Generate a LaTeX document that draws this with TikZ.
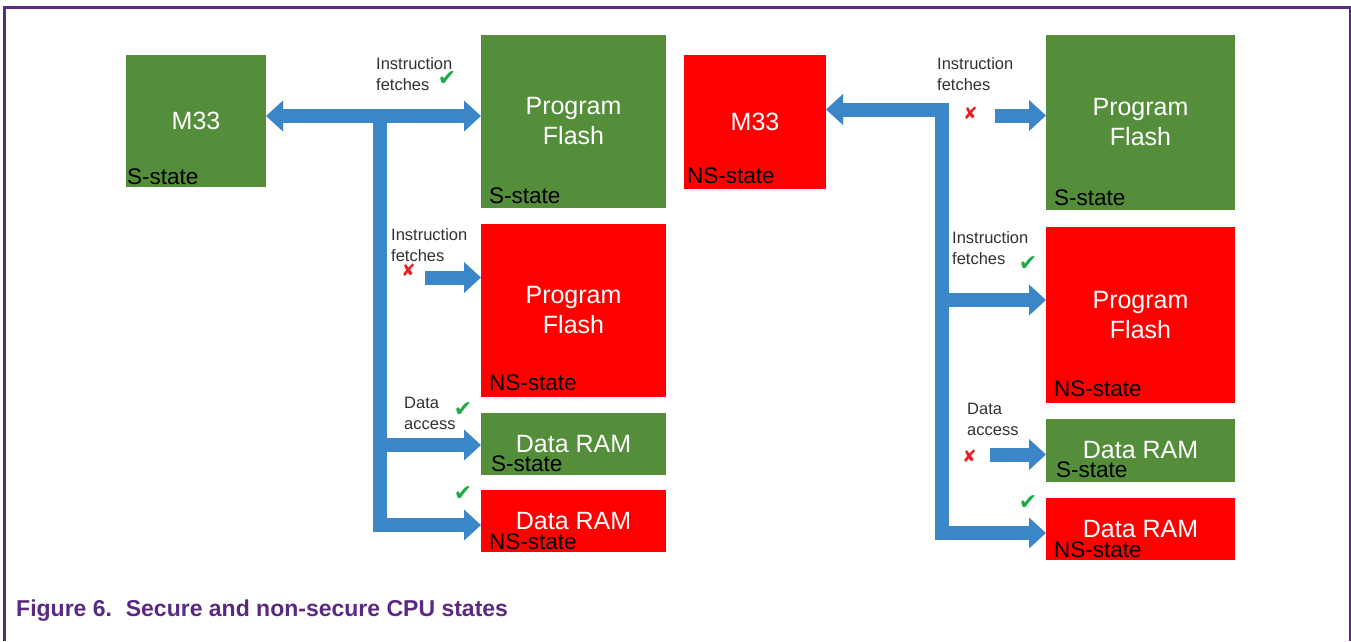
\documentclass[tikz,border=0pt]{standalone}
\usepackage{fontspec}
\setmainfont{Liberation Sans}
\newfontfamily\symf{DejaVu Sans}
\usetikzlibrary{arrows.meta}
\definecolor{grn}{RGB}{84,142,58}
\definecolor{rd}{RGB}{255,0,0}
\definecolor{bl}{RGB}{58,134,200}
\definecolor{purp}{RGB}{90,42,130}
\definecolor{lbl}{RGB}{50,50,50}
\definecolor{ck}{RGB}{30,170,70}
\definecolor{xr}{RGB}{235,30,30}
\begin{document}
\begin{tikzpicture}[x=1pt,y=-1pt,
  >={Triangle[width=30pt,length=17pt]},
  blk/.style={anchor=north west, inner sep=0pt, outer sep=0pt, text=white, align=center,
    font=\fontsize{25}{30}\selectfont},
  gblk/.style={blk, fill=grn},
  rblk/.style={blk, fill=rd},
  st/.style={anchor=base west, inner sep=0pt, text=black, font=\fontsize{22.5}{27}\selectfont},
  sm/.style={anchor=north west, inner sep=0pt, text=lbl, align=left,
    font=\fontsize{16.5}{21}\selectfont},
  ok/.style={inner sep=0pt, text=ck, font=\symf\fontsize{22}{22}\selectfont},
  no/.style={inner sep=0pt, text=xr, font=\symf\fontsize{17}{17}\selectfont},
  bus/.style={draw=bl, line width=14pt, line join=miter},
  frame/.style={draw=purp}
]
\useasboundingbox (0,0) rectangle (1351,641);
\fill[white] (0,0) rectangle (1351,641);

% frame
\draw[frame, line width=3pt] (4.8,641) -- (4.8,7.5) -- (1351,7.5);
\draw[frame, line width=1.5pt] (1349.8,7.5) -- (1349.8,641);

% ---------- left diagram ----------
\node[gblk, minimum width=140pt, minimum height=132pt] (m33l) at (126,55) {M33};
\node[gblk, minimum width=185pt, minimum height=173pt] (pfsl) at (481,35) {Program\\Flash};
\node[rblk, minimum width=185pt, minimum height=173pt] (pfnsl) at (481,224) {Program\\Flash};
\node[gblk, minimum width=185pt, minimum height=62pt] (drsl) at (481,413) {Data RAM};
\node[rblk, minimum width=185pt, minimum height=62pt] (drnsl) at (481,490) {Data RAM};

\node[st] (s1) at (127,184) {S-state};
\node[st] (s2) at (489,203) {S-state};
\node[st] (s3) at (489,390) {NS-state};
\node[st] (s4) at (491,471) {S-state};
\node[st] (s5) at (489,549) {NS-state};

\coordinate (jl) at (379.5,116);
\coordinate (jlm) at (379.5,445);
\coordinate (jlb) at (379.5,525);
\coordinate (bl1) at (425,277.5);

\draw[bus,<->] (m33l.east |- jl) -- (pfsl.west |- jl);
\draw[bus,->] (jl) -- (jlb) -- (drnsl.west |- jlb);
\draw[bus,->] (jlm) -- (drsl.west |- jlm);
\draw[bus,->] (bl1) -- (pfnsl.west |- bl1);

\node[sm] (t1) at (376,57) {Instruction\\fetches};
\node[ok] (c1) at (447,79) {✔};
\node[sm] (t2) at (391,228) {Instruction\\fetches};
\node[no] (x1) at (408.5,270.5) {✘};
\node[sm] (t3) at (404,397) {Data\\access};
\node[ok] (c2) at (463,410) {✔};
\node[ok] (c3) at (463,494) {✔};

% ---------- right diagram ----------
\node[rblk, minimum width=142pt, minimum height=134pt] (m33r) at (684,55) {M33};
\node[gblk, minimum width=189pt, minimum height=175pt] (pfsr) at (1046,35) {Program\\Flash};
\node[rblk, minimum width=189pt, minimum height=176pt] (pfnsr) at (1046,227) {Program\\Flash};
\node[gblk, minimum width=189pt, minimum height=63pt] (drsr) at (1046,419) {Data RAM};
\node[rblk, minimum width=189pt, minimum height=62pt] (drnsr) at (1046,498) {Data RAM};

\node[st] (s6) at (687,183) {NS-state};
\node[st] (s7) at (1054,205) {S-state};
\node[st] (s8) at (1054,396) {NS-state};
\node[st] (s9) at (1056,477) {S-state};
\node[st] (s10) at (1054,557) {NS-state};

\coordinate (jr) at (941.5,109.5);
\coordinate (jrm) at (941.5,300);
\coordinate (jrb) at (941.5,533);
\coordinate (br1) at (995,115.5);
\coordinate (br2) at (990,454.5);

\draw[bus,<->] (m33r.east |- jr) -- (jr) -- (jrb) -- (drnsr.west |- jrb);
\draw[bus,->] (jrm) -- (pfnsr.west |- jrm);
\draw[bus,->] (br1) -- (pfsr.west |- br1);
\draw[bus,->] (br2) -- (drsr.west |- br2);

\node[sm] (t4) at (937,57) {Instruction\\fetches};
\node[no] (x2) at (970.5,113.5) {✘};
\node[sm] (t5) at (952,231) {Instruction\\fetches};
\node[ok] (c4) at (1028,264) {✔};
\node[sm] (t6) at (967,403) {Data\\access};
\node[no] (x3) at (969.5,456.5) {✘};
\node[ok] (c5) at (1028,502.5) {✔};

% caption
\node[anchor=base west, inner sep=0pt, text=purp, font=\bfseries\fontsize{23}{27}\selectfont]
  (cap) at (16,616) {Figure 6.\hspace{0.6em}Secure and non-secure CPU states};
\end{tikzpicture}
\end{document}
